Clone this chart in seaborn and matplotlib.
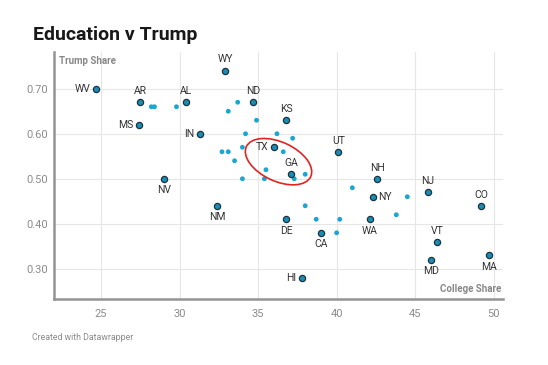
import matplotlib
matplotlib.use("Agg")
import matplotlib.pyplot as plt
import matplotlib.transforms as transforms
from matplotlib.patches import Ellipse
import seaborn as sns
import pandas as pd

# labelled states
states = ['WV', 'AR', 'AL', 'MS', 'IN', 'NV', 'NM', 'WY', 'ND', 'KS', 'TX', 'GA',
          'UT', 'NH', 'NY', 'NJ', 'CO', 'VT', 'MD', 'MA', 'DE', 'CA', 'WA', 'HI']
college = [24.7, 27.5, 30.4, 27.4, 31.3, 29.0, 32.4, 32.9, 34.7, 36.8, 36.0, 37.1,
           40.1, 42.6, 42.3, 45.8, 49.2, 46.4, 46.0, 49.7, 36.8, 39.0, 42.1, 37.8]
trump = [0.70, 0.67, 0.67, 0.62, 0.60, 0.50, 0.44, 0.74, 0.67, 0.63, 0.57, 0.51,
         0.56, 0.50, 0.46, 0.47, 0.44, 0.36, 0.32, 0.33, 0.41, 0.38, 0.41, 0.28]

# other states (no label)
other_college = [28.2, 28.4, 29.8, 33.1, 33.7, 34.9, 34.2, 36.2, 37.2, 32.7, 33.1, 34.0, 36.6,
                 33.5, 35.5, 34.0, 35.4, 37.3, 38.0, 41.0, 44.5, 43.8, 38.0, 38.7, 40.2, 40.0]
other_trump = [0.66, 0.66, 0.66, 0.65, 0.67, 0.63, 0.60, 0.60, 0.59, 0.56, 0.56, 0.57, 0.56,
               0.54, 0.52, 0.50, 0.50, 0.50, 0.51, 0.48, 0.46, 0.42, 0.44, 0.41, 0.41, 0.38]

x_ticks = [25, 30, 35, 40, 45, 50]
y_ticks = [0.30, 0.40, 0.50, 0.60, 0.70]

# where each label sits relative to its dot
label_side = {'WV': 'left', 'MS': 'left', 'IN': 'left', 'TX': 'left', 'HI': 'left',
              'NY': 'right',
              'NV': 'below', 'NM': 'below', 'MD': 'below', 'MA': 'below', 'DE': 'below',
              'CA': 'below', 'WA': 'below'}

df = pd.DataFrame({'state': states, 'college': college, 'trump': trump})
df_other = pd.DataFrame({'college': other_college, 'trump': other_trump})

sns.set_style('white')
plt.rcParams['font.family'] = ['Roboto', 'DejaVu Sans']

fig = plt.figure(figsize=(5.48, 3.65), dpi=100)
ax = fig.add_axes([0.0985, 0.181, 0.8195, 0.677])

sns.scatterplot(data=df_other, x='college', y='trump', ax=ax, s=12, color='#1aa6d2',
                edgecolor='none', zorder=3)
sns.scatterplot(data=df, x='college', y='trump', ax=ax, s=20, color='#1a8db6',
                edgecolor='#1c3340', linewidth=0.9, zorder=4)

for _, row in df.iterrows():
    side = label_side.get(row['state'], 'above')
    if side == 'left':
        off, ha, va = (-4, 0), 'right', 'center'
    elif side == 'right':
        off, ha, va = (4, 0), 'left', 'center'
    elif side == 'below':
        off, ha, va = (0, -4.5), 'center', 'top'
    else:
        off, ha, va = (0, 4.5), 'center', 'bottom'
    ax.annotate(row['state'], (row['college'], row['trump']), xytext=off,
                textcoords='offset points', ha=ha, va=va, fontsize=7.5, color='#333333')

# red hand-drawn circle around TX and GA
tr = fig.dpi_scale_trans + transforms.ScaledTranslation(36.3, 0.538, ax.transData)
ax.add_patch(Ellipse((0, 0), 0.71, 0.39, angle=-25, fill=False, edgecolor='#e3231f',
                     linewidth=1.2, transform=tr, zorder=5))

ax.set_xlim(22, 50.6)
ax.set_ylim(0.233, 0.782)
ax.set_xticks(x_ticks)
ax.set_yticks(y_ticks)
ax.set_yticklabels([f'{v:.2f}' for v in y_ticks])
ax.tick_params(length=0, labelsize=8, labelcolor='#8c8c8c', pad=4)
ax.tick_params(axis='x', pad=7)
ax.grid(True, color='#e6e6e6', linewidth=0.8)
ax.set_axisbelow(True)
for s in ['top', 'right']:
    ax.spines[s].set_visible(False)
for s in ['left', 'bottom']:
    ax.spines[s].set_color('#949494')
    ax.spines[s].set_linewidth(1.8)
ax.set_xlabel('')
ax.set_ylabel('')

ax.text(0.012, 0.985, 'Trump Share', transform=ax.transAxes, ha='left', va='top',
        fontsize=7, fontweight='bold', color='#888888')
ax.text(0.995, 0.02, 'College Share', transform=ax.transAxes, ha='right', va='bottom',
        fontsize=7, fontweight='bold', color='#888888')

fig.text(0.06, 0.89, 'Education v Trump', fontsize=14, fontweight='bold', color='#181818')
fig.text(0.058, 0.068, 'Created with Datawrapper', fontsize=6.3, color='#8a8a8a')

fig.savefig('out.png', dpi=100)
